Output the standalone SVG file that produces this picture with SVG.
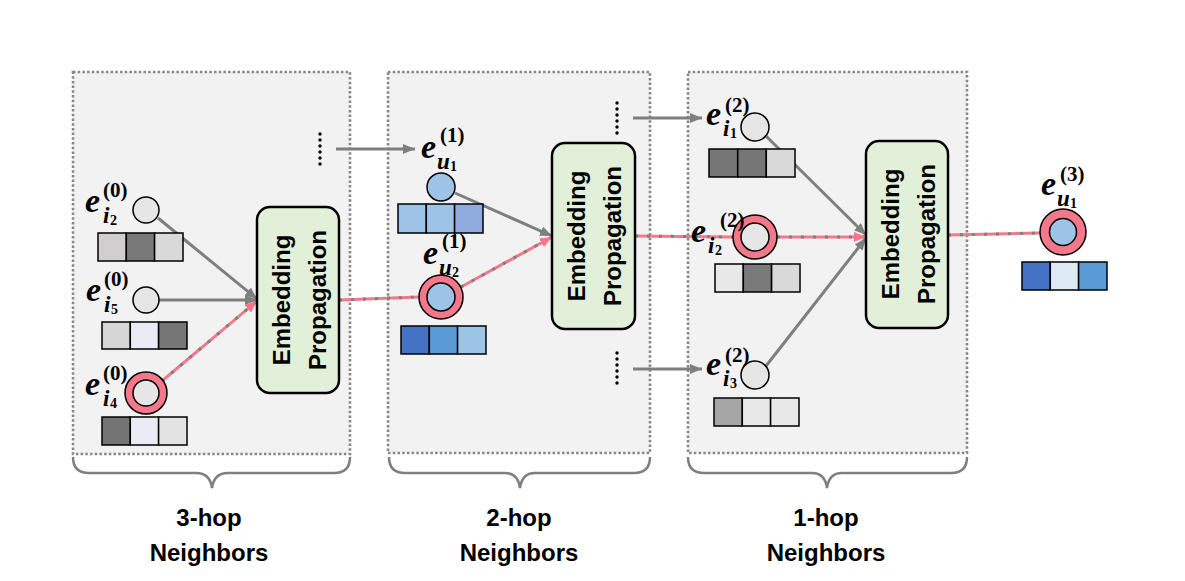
<svg xmlns="http://www.w3.org/2000/svg" width="1185" height="581" viewBox="0 0 1185 581">
<style>
.panel{fill:#f2f2f2;stroke:#878787;stroke-width:2.6;stroke-dasharray:2.5 2.2}
.brace{fill:none;stroke:#7f7f7f;stroke-width:2.5}
.hop{font-family:"Liberation Sans",Arial,sans-serif;font-weight:bold;font-size:24px;fill:#000;text-anchor:middle}
.box{fill:#e2f0d9;stroke:#000;stroke-width:2.5}
.bt{font-family:"Liberation Sans",Arial,sans-serif;font-weight:bold;font-size:24px;fill:#000;text-anchor:middle}
.cg{fill:#e7e6e6;stroke:#000;stroke-width:1.5}
.cb{fill:#9dc3e6;stroke:#000;stroke-width:1.5}
.ring{fill:#f4788a;stroke:#000;stroke-width:1.5}
.cell{stroke:#000;stroke-width:1.5}
.e{font-family:"Liberation Serif","Times New Roman",serif;font-weight:bold;font-style:italic;font-size:34px;fill:#000}
.sup{font-family:"Liberation Serif","Times New Roman",serif;font-weight:bold;font-size:21px;fill:#000}
.sub{font-family:"Liberation Serif","Times New Roman",serif;font-weight:bold;font-style:italic;font-size:23px;fill:#000}
.subn{font-family:"Liberation Serif","Times New Roman",serif;font-weight:bold;font-size:14px;fill:#000}
.g{fill:none;stroke:#7f7f7f;stroke-width:3}
.pk{fill:none;stroke:#f4788a;stroke-width:3}
.pkd{fill:none;stroke:#7f7f7f;stroke-width:3;stroke-dasharray:3 9}
.dot{fill:#000}
</style>
<defs>
<marker id="ahG" markerUnits="userSpaceOnUse" markerWidth="12" markerHeight="10" viewBox="0 0 12 10" refX="12" refY="5" orient="auto"><path d="M0,0 L12,5 L0,10 z" fill="#7f7f7f"/></marker>
<marker id="ahP" markerUnits="userSpaceOnUse" markerWidth="12" markerHeight="10" viewBox="0 0 12 10" refX="12" refY="5" orient="auto"><path d="M0,0 L12,5 L0,10 z" fill="#f4788a"/></marker>
</defs>

<g id="panels">
<rect id="panel3hop" class="panel" x="73" y="72" width="277" height="382"/>
<rect id="panel2hop" class="panel" x="388" y="72" width="262" height="381"/>
<rect id="panel1hop" class="panel" x="688" y="72" width="279" height="381"/>
</g>

<g id="braces">
<path class="brace" d="M73,457 Q73,473 89,473 L196,473 Q210,473 212,488 Q214,473 228,473 L334,473 Q350,473 350,457"/>
<path class="brace" d="M389,457 Q389,473 405,473 L505,473 Q518,473 520,488 Q522,473 535,473 L634,473 Q650,473 650,457"/>
<path class="brace" d="M688,457 Q688,473 704,473 L812,473 Q825,473 827,488 Q829,473 842,473 L951,473 Q967,473 967,457"/>
</g>

<g id="hop-labels">
<text class="hop" x="209" y="526">3-hop</text>
<text class="hop" x="209" y="561">Neighbors</text>
<text class="hop" x="519" y="526">2-hop</text>
<text class="hop" x="519" y="561">Neighbors</text>
<text class="hop" x="826" y="526">1-hop</text>
<text class="hop" x="826" y="561">Neighbors</text>
</g>

<g id="dots">
<circle class="dot" cx="320" cy="134" r="1.7"/><circle class="dot" cx="320" cy="140" r="1.7"/><circle class="dot" cx="320" cy="146" r="1.7"/><circle class="dot" cx="320" cy="152" r="1.7"/><circle class="dot" cx="320" cy="158" r="1.7"/><circle class="dot" cx="320" cy="164" r="1.7"/>
<circle class="dot" cx="617" cy="103" r="1.7"/><circle class="dot" cx="617" cy="109" r="1.7"/><circle class="dot" cx="617" cy="115" r="1.7"/><circle class="dot" cx="617" cy="121" r="1.7"/><circle class="dot" cx="617" cy="127" r="1.7"/><circle class="dot" cx="617" cy="133" r="1.7"/>
<circle class="dot" cx="617" cy="353" r="1.7"/><circle class="dot" cx="617" cy="359" r="1.7"/><circle class="dot" cx="617" cy="365" r="1.7"/><circle class="dot" cx="617" cy="371" r="1.7"/><circle class="dot" cx="617" cy="377" r="1.7"/><circle class="dot" cx="617" cy="383" r="1.7"/>
</g>

<g id="connectors">
<path class="g" d="M158,218 L257,299" marker-end="url(#ahG)"/>
<path class="g" d="M159,300 L257,300" marker-end="url(#ahG)"/>
<path class="g" d="M455,193 L552,236" marker-end="url(#ahG)"/>
<path class="g" d="M766,136 L866,235" marker-end="url(#ahG)"/>
<path class="g" d="M766,366 L866,238" marker-end="url(#ahG)"/>
<path class="g" d="M336,149 L415,149" marker-end="url(#ahG)"/>
<path class="g" d="M633,118 L702,118" marker-end="url(#ahG)"/>
<path class="g" d="M633,369 L702,369" marker-end="url(#ahG)"/>
<path class="pk" d="M162,381 L257,301"/><path class="pkd" d="M162,381 L257,301" marker-end="url(#ahP)"/>
<path class="pk" d="M339,300 L419,297"/><path class="pkd" d="M339,300 L419,297"/>
<path class="pk" d="M461,287 L552,237"/><path class="pkd" d="M461,287 L552,237" marker-end="url(#ahP)"/>
<path class="pk" d="M635,236 L733,237"/><path class="pkd" d="M635,236 L733,237"/>
<path class="pk" d="M777,237 L866,237"/><path class="pkd" d="M777,237 L866,237" marker-end="url(#ahP)"/>
<path class="pk" d="M948,235 L1040,233"/><path class="pkd" d="M948,235 L1040,233"/>
</g>

<g id="prop1">
<rect class="box" x="257" y="207" width="82" height="186" rx="13"/>
<text class="bt" transform="translate(290,300) rotate(-90)">Embedding</text>
<text class="bt" transform="translate(326,300) rotate(-90)">Propagation</text>
</g>
<g id="prop2">
<rect class="box" x="552" y="143" width="83" height="186" rx="13"/>
<text class="bt" transform="translate(585,236) rotate(-90)">Embedding</text>
<text class="bt" transform="translate(621,236) rotate(-90)">Propagation</text>
</g>
<g id="prop3">
<rect class="box" x="866" y="141" width="82" height="187" rx="13"/>
<text class="bt" transform="translate(899,234) rotate(-90)">Embedding</text>
<text class="bt" transform="translate(935,234) rotate(-90)">Propagation</text>
</g>

<g id="node-i2-0">
<circle class="cg" cx="146" cy="210" r="13"/>
<rect class="cell" x="98" y="233" width="28.3" height="28" fill="#d0cece"/><rect class="cell" x="126.3" y="233" width="28.3" height="28" fill="#787878"/><rect class="cell" x="154.6" y="233" width="28.4" height="28" fill="#d9d9d9"/>
<g transform="translate(85,212)"><text class="e">e</text><text class="sup" x="18" y="-15">(0)</text><text class="sub" x="18" y="11">i</text><text class="subn" x="25" y="13">2</text></g>
</g>
<g id="node-i5-0">
<circle class="cg" cx="146" cy="300" r="13"/>
<rect class="cell" x="102" y="322" width="28.3" height="27" fill="#d6d6d6"/><rect class="cell" x="130.3" y="322" width="28.3" height="27" fill="#ebebf5"/><rect class="cell" x="158.6" y="322" width="28.4" height="27" fill="#767676"/>
<g transform="translate(86,301)"><text class="e">e</text><text class="sup" x="18" y="-15">(0)</text><text class="sub" x="18" y="11">i</text><text class="subn" x="25" y="13">5</text></g>
</g>
<g id="node-i4-0">
<circle class="ring" cx="146" cy="393" r="21"/>
<circle class="cg" cx="146" cy="393" r="13"/>
<rect class="cell" x="102" y="417" width="28.3" height="28" fill="#747474"/><rect class="cell" x="130.3" y="417" width="28.3" height="28" fill="#ebebf5"/><rect class="cell" x="158.6" y="417" width="28.4" height="28" fill="#e3e3e3"/>
<g transform="translate(85,395)"><text class="e">e</text><text class="sup" x="18" y="-15">(0)</text><text class="sub" x="18" y="11">i</text><text class="subn" x="25" y="13">4</text></g>
</g>

<g id="node-u1-1">
<circle class="cb" cx="441" cy="187" r="14"/>
<rect class="cell" x="398" y="204" width="28.3" height="29" fill="#9dc3e6"/><rect class="cell" x="426.3" y="204" width="28.3" height="29" fill="#9dc3e6"/><rect class="cell" x="454.6" y="204" width="28.4" height="29" fill="#8faadc"/>
<g transform="translate(421,158)"><text class="e">e</text><text class="sup" x="19" y="-16">(1)</text><text class="sub" x="16" y="11">u</text><text class="subn" x="29" y="13">1</text></g>
</g>
<g id="node-u2-1">
<circle class="ring" cx="441" cy="297" r="22"/>
<circle class="cb" cx="441" cy="297" r="14"/>
<rect class="cell" x="401" y="326" width="28.3" height="28" fill="#4472c4"/><rect class="cell" x="429.3" y="326" width="28.3" height="28" fill="#5b9bd5"/><rect class="cell" x="457.6" y="326" width="28.4" height="28" fill="#9dc3e6"/>
<g transform="translate(423,264)"><text class="e">e</text><text class="sup" x="19" y="-16">(1)</text><text class="sub" x="16" y="11">u</text><text class="subn" x="29" y="13">2</text></g>
</g>

<g id="node-i1-2">
<circle class="cg" cx="755" cy="127" r="14"/>
<rect class="cell" x="709" y="149" width="28.7" height="28" fill="#767676"/><rect class="cell" x="737.7" y="149" width="28.6" height="28" fill="#767676"/><rect class="cell" x="766.3" y="149" width="28.7" height="28" fill="#d9d9d9"/>
<g transform="translate(706,125)"><text class="e">e</text><text class="sup" x="19" y="-13">(2)</text><text class="sub" x="17" y="11">i</text><text class="subn" x="24" y="13">1</text></g>
</g>
<g id="node-i2-2">
<circle class="ring" cx="755" cy="237" r="22"/>
<circle class="cg" cx="755" cy="237" r="14"/>
<rect class="cell" x="715" y="264" width="28.3" height="28" fill="#e8e8e8"/><rect class="cell" x="743.3" y="264" width="28.3" height="28" fill="#7a7a7a"/><rect class="cell" x="771.6" y="264" width="28.4" height="28" fill="#d9d9d9"/>
<g transform="translate(691,242)"><text class="e">e</text><text class="sup" x="29" y="-15">(2)</text><text class="sub" x="17" y="11">i</text><text class="subn" x="24" y="13">2</text></g>
</g>
<g id="node-i3-2">
<circle class="cg" cx="755" cy="375" r="14"/>
<rect class="cell" x="714" y="398" width="28.3" height="28" fill="#a6a6a6"/><rect class="cell" x="742.3" y="398" width="28.3" height="28" fill="#e8e8e8"/><rect class="cell" x="770.6" y="398" width="28.4" height="28" fill="#e8e8e8"/>
<g transform="translate(706,375)"><text class="e">e</text><text class="sup" x="19" y="-13">(2)</text><text class="sub" x="17" y="11">i</text><text class="subn" x="24" y="13">3</text></g>
</g>

<g id="node-u1-3">
<circle class="ring" cx="1063" cy="232" r="23"/>
<circle class="cb" cx="1063" cy="232" r="13.5"/>
<rect class="cell" x="1022" y="262" width="28.3" height="28" fill="#4472c4"/><rect class="cell" x="1050.3" y="262" width="28.3" height="28" fill="#deebf7"/><rect class="cell" x="1078.6" y="262" width="28.4" height="28" fill="#5b9bd5"/>
<g transform="translate(1041,195)"><text class="e">e</text><text class="sup" x="19" y="-14">(3)</text><text class="sub" x="16" y="11">u</text><text class="subn" x="29" y="13">1</text></g>
</g>
</svg>
